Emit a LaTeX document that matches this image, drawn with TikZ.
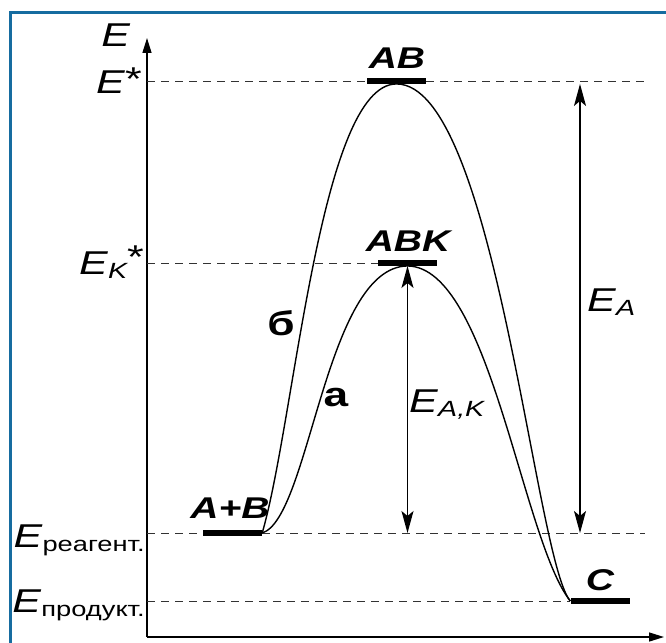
\documentclass[tikz,border=0pt]{standalone}
\usepackage{fontspec}
\setmainfont{Liberation Sans}[FakeStretch=1.3]
\usepackage{tikz}
\usetikzlibrary{positioning, arrows.meta}
\definecolor{FrameBlue}{RGB}{22,108,160}
\definecolor{GuideGray}{RGB}{50,50,50}
\newcommand{\lowsub}[1]{\raisebox{-4pt}{\fontsize{21}{21}\selectfont #1}}
\newcommand{\itsub}[1]{\raisebox{-4pt}{\fontsize{22}{22}\selectfont\itshape #1}}

\begin{document}
\begin{tikzpicture}[x=1pt, y=-1pt,
    lvlbar/.style={rectangle, fill=black, minimum width=59pt,
                   minimum height=5.5pt, inner sep=0pt},
    statelbl/.style={font=\fontsize{30}{30}\selectfont\bfseries\itshape,
                     inner sep=0pt, anchor=base},
    elabel/.style={font=\fontsize{33}{33}\selectfont, inner sep=0pt},
    branch/.style={font=\fontsize{34}{34}\selectfont\bfseries, inner sep=0pt},
    guide/.style={GuideGray, line width=1pt, dash pattern=on 8pt off 6pt},
    curve/.style={line width=1.4pt},
    gap/.style={{Stealth[length=22pt,width=12pt,inset=5pt]}-{Stealth[length=22pt,width=12pt,inset=5pt]},
                line width=1.3pt}
  ]
  \useasboundingbox (0,0) rectangle (666,642);
  % Frame
  \draw[FrameBlue, line width=3pt] (10,660) -- (10,13) -- (680,13);

  % Axes
  \coordinate (O) at (147,637);
  \coordinate (ytip) at (147,38);
  \coordinate (xtip) at (664,637);
  \coordinate (rim) at (645,0);
  \coordinate (eaX) at (580,0);
  \draw[line width=1.4pt, -{Triangle[length=15pt,width=9pt]}] (O) -- (ytip);
  \draw[line width=1.4pt, -{Triangle[length=15pt,width=9pt]}] (O) -- (xtip);
  \node[elabel, anchor=base] (eaxis) at (116,47) {\textit{E}};

  % Energy levels
  \node[lvlbar] (ab)  at (396.5,81) {};
  \node[lvlbar] (abk) at (407.5,263) {};
  \node[lvlbar] (ab0) at (232.5,533) {};
  \node[lvlbar] (c)   at (600,601) {};
  \node[statelbl] (ab-l)  at (397,68)  {AB};
  \node[statelbl] (abk-l) at (408,251) {ABK};
  \node[statelbl] (ab0-l) at (230,518) {A+B};
  \node[statelbl] (c-l)   at (600,590) {C};

  % Dashed levels
  \draw[guide] (O |- ab) -- (ab.west);
  \draw[guide] (ab.east) -- (rim |- ab);
  \draw[guide] (O |- abk) -- (abk.west);
  \draw[guide] (O |- ab0) -- (ab0.west);
  \draw[guide] (ab0.east) -- (rim |- ab0);
  \draw[guide] (O |- c) -- (c.west);

  % Left labels
  \node[elabel, anchor=base east] (estar) at (142,93) {\textit{E}\raisebox{3pt}{*}};
  \node[elabel, anchor=base east] (ekstar) at (144,274)
        {\textit{E}\itsub{K}\raisebox{6pt}{*}};
  \node[elabel, anchor=base east] (ereag) at (145,547) {\textit{E}\lowsub{реагент.}};
  \node[elabel, anchor=base east] (eprod) at (145,612) {\textit{E}\lowsub{продукт.}};

  % Reaction paths
  \draw[curve] (ab0.east) .. controls (295,420) and (320,84) .. (ab.south)
               .. controls (495,84) and (535,560) .. (c.west);
  \draw[curve] (ab0.east) .. controls (310,518) and (325,267) .. (abk.south)
               .. controls (490,267) and (522,540) .. (c.west);
  \node[branch] (path-b) at (281,323) {б};
  \node[branch] (path-a) at (336,398) {а};

  % Activation energies
  \draw[gap] (abk.south) -- (abk.south |- ab0);
  \draw[gap] (eaX |- ab.south) -- (eaX |- ab0);
  \node[elabel, anchor=base west] (eak) at (409,412) {\textit{E}\itsub{A,K}};
  \node[elabel, anchor=base west] (ea) at (587,311) {\textit{E}\itsub{A}};
\end{tikzpicture}
\end{document}
